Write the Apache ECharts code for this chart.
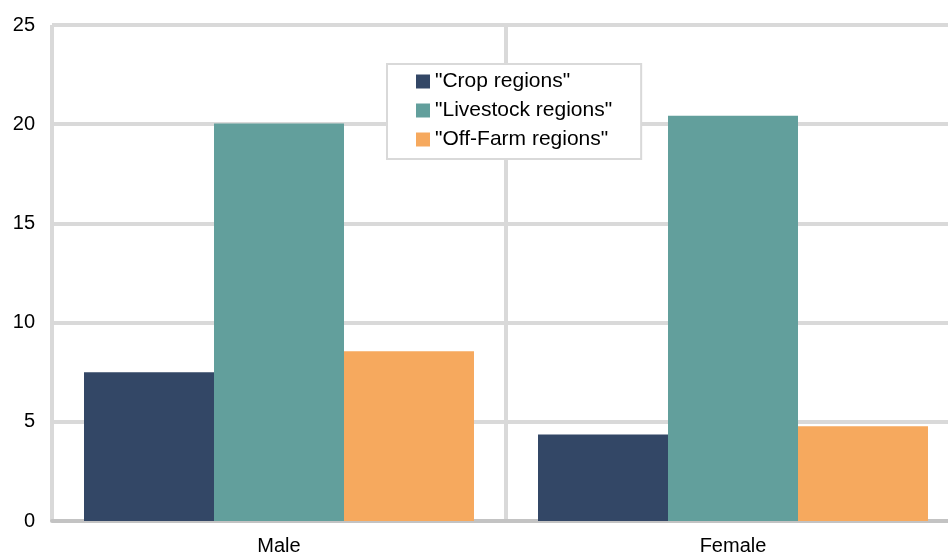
<!DOCTYPE html>
<html>
<head>
<meta charset="utf-8">
<script src="https://cdn.jsdelivr.net/npm/echarts@6/dist/echarts.min.js"></script>
<style>
html,body{margin:0;padding:0;background:#fff;overflow:hidden;width:948px;height:556px;}
#chart{width:960px;height:556px;}
</style>
</head>
<body>
<div id="chart"></div>
<script>
const categories = ["Male", "Female"];
const seriesNames = ['"Crop regions"', '"Livestock regions"', '"Off-Farm regions"'];
const cropValues = [7.5, 4.36];
const livestockValues = [20.04, 20.43];
const offFarmValues = [8.55, 4.78];
const yTicks = [0, 5, 10, 15, 20, 25];

const colors = ["#334766", "#629f9c", "#f6a95e"];
const font = "'Liberation Sans', Arial, sans-serif";

const chart = echarts.init(document.getElementById('chart'), null, {renderer: 'canvas'});
const dataSets = [cropValues, livestockValues, offFarmValues];

chart.setOption({
  animation: false,
  backgroundColor: '#ffffff',
  textStyle: {fontFamily: font},
  grid: {left: 52, top: 25, right: 0, bottom: 33.5, containLabel: false},
  legend: {
    orient: 'vertical',
    left: 387,
    top: 64,
    data: seriesNames,
    backgroundColor: '#ffffff',
    borderColor: '#d9d9d9',
    borderWidth: 2,
    padding: [7, 29, 9, 29],
    itemWidth: 14,
    itemHeight: 14,
    itemGap: 8,
    itemStyle: {borderWidth: 0},
    textStyle: {fontSize: 21, color: '#000', fontFamily: font, lineHeight: 21},
    icon: 'rect'
  },
  xAxis: {
    type: 'category',
    data: categories,
    boundaryGap: true,
    axisLine: {show: true, lineStyle: {color: '#c3c3c3', width: 4}},
    axisTick: {show: false},
    axisLabel: {fontSize: 20, color: '#000', margin: 15, fontFamily: font},
    splitLine: {show: true, lineStyle: {color: '#d9d9d9', width: 4}}
  },
  yAxis: {
    type: 'value',
    min: yTicks[0],
    max: yTicks[yTicks.length - 1],
    interval: 5,
    axisLine: {show: false},
    axisTick: {show: false},
    axisLabel: {fontSize: 20, color: '#000', margin: 17, fontFamily: font},
    splitLine: {show: true, lineStyle: {color: '#d9d9d9', width: 4}}
  },
  series: seriesNames.map((name, i) => ({
    name: name,
    type: 'bar',
    data: dataSets[i],
    barGap: '0%',
    barCategoryGap: '14.1%',
    itemStyle: {color: colors[i]}
  }))
});
</script>
</body>
</html>
